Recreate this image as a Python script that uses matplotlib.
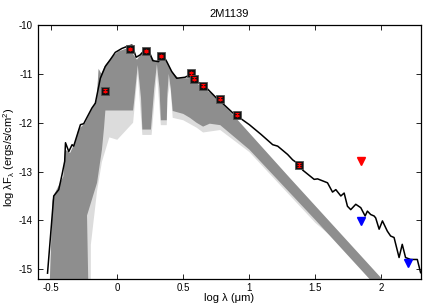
import matplotlib
matplotlib.use("Agg")
import matplotlib.pyplot as plt

# ── data ──
# binned model SED (black line)
sed_x = [-0.528, -0.481, -0.443, -0.418, -0.398, -0.392, -0.367, -0.342, -0.330, -0.279,
         -0.254, -0.192, -0.166, -0.128, -0.091, -0.053, -0.015, 0.035, 0.073, 0.111,
         0.143, 0.174, 0.211, 0.237, 0.269, 0.312, 0.345, 0.375, 0.412, 0.450, 0.513,
         0.551, 0.601, 0.651, 0.702, 0.764, 0.800, 0.875, 1.000, 1.089, 1.177, 1.215,
         1.290, 1.328, 1.379, 1.404, 1.491, 1.517, 1.592, 1.630, 1.655, 1.693, 1.718,
         1.743, 1.768, 1.806, 1.844, 1.877, 1.894, 1.919, 1.945, 1.957, 1.983, 2.008,
         2.045, 2.070, 2.096, 2.134, 2.158, 2.183, 2.221, 2.272, 2.297]
sed_y = [-15.08, -13.50, -13.37, -13.06, -12.79, -12.41, -12.59, -12.45, -12.48, -12.04,
         -12.02, -11.70, -11.60, -11.09, -10.85, -10.71, -10.56, -10.48, -10.44, -10.41,
         -10.66, -10.61, -10.50, -10.51, -10.73, -10.75, -10.61, -10.75, -10.95, -11.09, -11.07,
         -11.02, -11.16, -11.22, -11.36, -11.53, -11.61, -11.80, -12.04, -12.24, -12.45, -12.48,
         -12.65, -12.76, -12.86, -12.97, -13.16, -13.15, -13.23, -13.42, -13.37, -13.50, -13.44,
         -13.71, -13.78, -13.67, -13.74, -13.91, -13.81, -13.88, -13.91, -13.95, -14.18, -14.01,
         -14.22, -14.32, -14.35, -14.76, -14.49, -14.76, -14.80, -14.80, -15.07]

# high-resolution model spectrum, drawn as its envelope (grey cloud)
spec_top_x = [-0.51, -0.49, -0.483, -0.445, -0.408, -0.395, -0.357, -0.32, -0.294, -0.244,
              -0.194, -0.156, -0.141, -0.12, -0.09, -0.04, 0.01, 0.073, 0.098, 0.123, 0.149,
              0.186, 0.224, 0.249, 0.287, 0.325, 0.35, 0.375, 0.412, 0.463, 0.539, 0.577,
              0.601, 0.651, 0.727, 0.777, 0.853, 1.306, 2.005]
spec_top_y = [-15.2, -13.6, -13.5, -13.30, -13.10, -12.55, -12.62, -12.41, -12.14, -12.01,
              -11.73, -11.53, -10.9, -11.0, -10.82, -10.65, -10.54, -10.48, -10.44, -10.61, -10.71,
              -10.58, -10.51, -10.61, -10.75, -10.68, -10.61, -10.75, -10.95, -11.09, -11.09, -11.02,
              -11.19, -11.29, -11.43, -11.57, -11.77, -13.13, -15.2]
dense_low_x = [1.91, 1.5, 1.0, 0.78, 0.70, 0.65, 0.60, 0.55, 0.5, 0.42, 0.405, 0.39, 0.38,
               0.375, 0.33, 0.32, 0.30, 0.28, 0.255, 0.19, 0.18, 0.155, 0.13, 0.12, -0.09,
               -0.10, -0.116, -0.153, -0.229, -0.22]
dense_low_y = [-15.2, -13.99, -12.55, -12.05, -12.02, -12.08, -12.0, -11.9, -11.82, -11.76,
               -11.3, -11.0, -11.4, -11.95, -11.95, -11.3, -10.8, -11.3, -12.14, -12.14, -11.5,
               -10.82, -11.5, -11.75, -11.75, -12.1, -12.55, -13.23, -13.9, -15.2]
sparse_low_x = [2.0, 1.5, 1.0, 0.78, 0.65, 0.6, 0.5, 0.42, 0.40, 0.38, 0.375, 0.33, 0.30,
                0.26, 0.19, 0.155, 0.12, 0.0, -0.06, -0.116, -0.153, -0.2, -0.2]
sparse_low_y = [-15.2, -14.05, -12.6, -12.15, -12.2, -12.1, -11.95, -11.9, -11.2, -11.5,
                -12.05, -12.05, -11.0, -12.25, -12.25, -11.0, -12.0, -12.35, -12.3, -12.8,
                -13.4, -14.5, -15.2]

# photometry
phot_x = [-0.096, 0.093, 0.219, 0.334, 0.556, 0.581, 0.651, 0.775, 0.906, 1.379]
phot_y = [-11.35, -10.50, -10.53, -10.63, -10.99, -11.10, -11.24, -11.51, -11.84, -12.86]
phot_err = [0.03, 0.02, 0.02, 0.02, 0.03, 0.03, 0.03, 0.03, 0.03, 0.04]
red_lim_x, red_lim_y = [1.845], [-12.78]
blue_lim_x = [1.845, 2.20]
blue_lim_y = [-14.01, -14.87]

plt.rcParams.update({"font.family": ["Liberation Sans", "DejaVu Sans"], "font.size": 7,
                     "mathtext.default": "regular"})

fig = plt.figure(figsize=(4.36, 3.05), dpi=100)
ax = fig.add_axes([0.0872, 0.0852, 0.8784, 0.8328])

ax.fill(spec_top_x + sparse_low_x, spec_top_y + sparse_low_y, color="#dcdcdc", lw=0, zorder=1)
ax.fill(spec_top_x + dense_low_x, spec_top_y + dense_low_y, color="#8e8e8e", lw=0, zorder=2)
ax.plot(sed_x, sed_y, color="black", lw=1.1, zorder=3)

ax.plot(phot_x, phot_y, ls="none", marker="s", ms=6, mfc="#111111", mec="#555555",
        mew=0.6, zorder=4)
ax.errorbar(phot_x, phot_y, yerr=phot_err, fmt="+", color="red", ms=3, mew=0.8,
            elinewidth=0.8, capsize=1.5, zorder=5)
ax.plot(red_lim_x, red_lim_y, ls="none", marker="v", ms=6, color="red", zorder=4)
ax.plot(blue_lim_x, blue_lim_y, ls="none", marker="v", ms=6, color="blue", zorder=4)

ax.set_xlim(-0.6, 2.3)
ax.set_ylim(-15.2, -10)
ax.set_xticks([-0.5, 0, 0.5, 1, 1.5, 2])
ax.set_xticklabels(["-0.5", "0", "0.5", "1", "1.5", "2"])
ax.set_yticks([-15, -14, -13, -12, -11, -10])
ax.set_yticklabels(["-15", "-14", "-13", "-12", "-11", "-10"])
ax.tick_params(direction="in", length=3.5, width=0.6, top=True, right=True, labelsize=7)
ax.tick_params(axis="x", pad=3)
ax.tick_params(axis="y", pad=4)
for s in ax.spines.values():
    s.set_linewidth(0.9)

ax.set_title("2M1139", fontsize=8, pad=6)
ax.set_xlabel("log λ (μm)", fontsize=8, labelpad=0)
ax.set_ylabel("log λF$_λ$ (ergs/s/cm$^2$)", fontsize=8)
ax.yaxis.set_label_coords(-0.055, 0.48)

fig.savefig("out.png", dpi=100)
